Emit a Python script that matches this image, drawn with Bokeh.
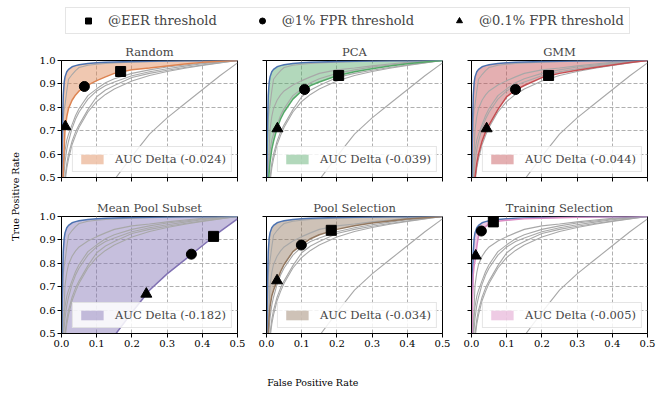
import math
from bokeh.plotting import figure
from bokeh.layouts import column, row
from bokeh.models import Legend, LegendItem, Range1d, FixedTicker, PrintfTickFormatter, ColumnDataSource
from bokeh.embed import file_html
from bokeh.resources import INLINE
from bokeh.core.properties import value

FONT = "DejaVu Serif"

# ---------------- data ----------------
fpr = [0.0, 0.001, 0.002, 0.003, 0.005, 0.0075, 0.01, 0.015, 0.02, 0.03, 0.04, 0.05,
       0.075, 0.1, 0.125, 0.15, 0.2, 0.25, 0.3, 0.35, 0.4, 0.45, 0.5]

baseline_tpr = [0.2, 0.45, 0.62, 0.74, 0.85, 0.905, 0.93, 0.952, 0.962, 0.973, 0.978, 0.982,
                0.987, 0.99, 0.992, 0.994, 0.996, 0.997, 0.998, 0.9985, 0.999, 0.9995, 1.0]
random_tpr = [0.2, 0.3, 0.38, 0.44, 0.52, 0.62, 0.705, 0.76, 0.795, 0.83, 0.853, 0.87,
              0.895, 0.914, 0.93, 0.945, 0.96, 0.968, 0.977, 0.985, 0.992, 0.997, 1.0]
pca_tpr = [0.2, 0.28, 0.34, 0.39, 0.46, 0.52, 0.565, 0.62, 0.655, 0.71, 0.75, 0.78,
           0.835, 0.87, 0.893, 0.908, 0.935, 0.952, 0.965, 0.976, 0.986, 0.994, 1.0]
gmm_tpr = [0.15, 0.22, 0.28, 0.33, 0.4, 0.46, 0.5, 0.56, 0.6, 0.655, 0.695, 0.725,
           0.79, 0.845, 0.874, 0.893, 0.927, 0.945, 0.958, 0.97, 0.981, 0.991, 1.0]
meanpool_tpr = [0.0, 0.005, 0.01, 0.015, 0.025, 0.035, 0.045, 0.065, 0.085, 0.12, 0.155, 0.19,
                0.27, 0.345, 0.42, 0.49, 0.59, 0.685, 0.755, 0.815, 0.875, 0.935, 0.99]
poolsel_tpr = [0.2, 0.3, 0.37, 0.43, 0.5, 0.57, 0.615, 0.66, 0.685, 0.726, 0.765, 0.795,
               0.85, 0.879, 0.905, 0.922, 0.945, 0.96, 0.972, 0.981, 0.989, 0.995, 1.0]
trainsel_tpr = [0.2, 0.4, 0.55, 0.65, 0.75, 0.79, 0.81, 0.87, 0.92, 0.94, 0.957, 0.97,
                0.98, 0.984, 0.987, 0.99, 0.993, 0.995, 0.997, 0.998, 0.999, 0.9995, 1.0]
other_tpr = [0.15, 0.2, 0.25, 0.3, 0.37, 0.43, 0.48, 0.54, 0.58, 0.64, 0.68, 0.715,
             0.78, 0.825, 0.855, 0.878, 0.912, 0.936, 0.953, 0.967, 0.979, 0.99, 1.0]

methods = ["Random", "PCA", "GMM", "Mean Pool Subset", "Pool Selection", "Training Selection"]
method_tpr = [random_tpr, pca_tpr, gmm_tpr, meanpool_tpr, poolsel_tpr, trainsel_tpr]
method_colors = ["#dd8452", "#55a868", "#c44e52", "#8172b3", "#937860", "#da8bc3"]
auc_delta = ["-0.024", "-0.039", "-0.044", "-0.182", "-0.034", "-0.005"]

eer_fpr = [0.168, 0.205, 0.219, 0.432, 0.184, 0.062]
eer_tpr = [0.953, 0.936, 0.936, 0.915, 0.941, 0.977]
fpr1_fpr = [0.065, 0.108, 0.125, 0.369, 0.099, 0.028]
fpr1_tpr = [0.889, 0.876, 0.876, 0.839, 0.878, 0.938]
fpr01_fpr = [0.011, 0.031, 0.043, 0.241, 0.030, 0.012]
fpr01_tpr = [0.718, 0.709, 0.709, 0.669, 0.726, 0.832]

x_ticks = [0.0, 0.1, 0.2, 0.3, 0.4, 0.5]
y_ticks = [0.5, 0.6, 0.7, 0.8, 0.9, 1.0]

legend_labels = ["@EER threshold", "@1% FPR threshold", "@0.1% FPR threshold"]
legend_markers = ["square", "circle", "triangle"]

BLUE = "#4c72b0"
GRAY = "#a8a8a8"


def make_panel(i, show_x, show_y, left, right, top, bottom):
    p = figure(frame_width=176, frame_height=117,
               x_range=Range1d(0, 0.5), y_range=Range1d(0.5, 1.0),
               output_backend="svg", toolbar_location=None,
               min_border_left=left, min_border_right=right,
               min_border_top=top, min_border_bottom=bottom)
    p.title.text = methods[i]
    p.title.align = "center"
    p.title.text_font = FONT
    p.title.text_font_size = "11.5px"
    p.title.text_font_style = "normal"
    p.title.standoff = 4
    p.outline_line_color = "black"
    p.outline_line_width = 1
    p.outline_line_alpha = 1
    p.background_fill_color = "white"
    p.border_fill_color = "white"

    for ax, ticks, show in ((p.xaxis[0], x_ticks, show_x), (p.yaxis[0], y_ticks, show_y)):
        ax.ticker = FixedTicker(ticks=ticks)
        ax.minor_tick_line_color = None
        ax.major_tick_in = 0
        ax.major_tick_out = 4
        ax.major_tick_line_color = "black"
        ax.axis_line_color = "black"
        ax.major_label_standoff = 2
        ax.major_label_text_font = FONT
        ax.major_label_text_color = "black"
        ax.major_label_text_font_size = "10px"
        if show:
            ax.formatter = PrintfTickFormatter(format="%.1f")
        else:
            ax.major_label_overrides = {t: "" for t in ticks}
            ax.major_label_standoff = 0
    for g, ticks in ((p.xgrid[0], x_ticks), (p.ygrid[0], y_ticks)):
        g.ticker = FixedTicker(ticks=ticks)
        g.grid_line_color = "#b0b0b0"
        g.grid_line_dash = "4 2"
        g.grid_line_width = 1

    src = ColumnDataSource(dict(x=fpr, base=baseline_tpr, m=method_tpr[i]))
    area = p.varea(x="x", y1="m", y2="base", source=src,
                   fill_color=method_colors[i], fill_alpha=0.45)
    for j in range(len(methods)):
        if j != i:
            p.line(fpr, method_tpr[j], line_color=GRAY, line_width=1.1)
    p.line(fpr, other_tpr, line_color=GRAY, line_width=1.1)
    p.line("x", "base", source=src, line_color=BLUE, line_width=1.5)
    p.line("x", "m", source=src, line_color=method_colors[i], line_width=1.5)

    p.scatter([fpr01_fpr[i]], [fpr01_tpr[i]], marker="triangle", size=11, color="black")
    p.scatter([fpr1_fpr[i]], [fpr1_tpr[i]], marker="circle", size=10, color="black")
    p.scatter([eer_fpr[i]], [eer_tpr[i]], marker="square", size=10, color="black")

    leg = Legend(items=[LegendItem(label="AUC Delta (" + auc_delta[i] + ")", renderers=[area])],
                 location="bottom_right", margin=5, padding=5,
                 glyph_width=28, glyph_height=12, label_height=14,
                 label_standoff=9, label_text_font=FONT, label_text_font_size="11.5px",
                 border_line_color="#cccccc", border_line_width=1,
                 background_fill_color="white", background_fill_alpha=0.85)
    p.add_layout(leg, "center")
    return p


# ---------------- top legend ----------------
top = figure(width=656, height=40, x_range=Range1d(0, 1), y_range=Range1d(0, 1),
             x_axis_type=None, y_axis_type=None, output_backend="svg",
             toolbar_location=None, min_border=0)
top.outline_line_color = None
top.grid.visible = False
items = []
for lab, mk in zip(legend_labels, legend_markers):
    # placed outside the visible range: used only for the legend swatch
    r = top.scatter(x=[-5], y=[-5], marker=mk, size=10, color="black")
    items.append(LegendItem(label=lab, renderers=[r]))
top_leg = Legend(items=items, orientation="horizontal", location=(65, 6),
                 padding=5, glyph_width=34, glyph_height=15, label_height=15,
                 label_standoff=3, spacing=28, label_text_font=FONT,
                 label_text_font_size="13px", border_line_color="#cccccc",
                 border_line_width=1, background_fill_alpha=1.0)
top.add_layout(top_leg, "center")

# ---------------- y label strip ----------------
ystrip = figure(width=28, height=312, x_range=Range1d(0, 1), y_range=Range1d(0, 1),
                x_axis_type=None, y_axis_type=None, output_backend="svg",
                toolbar_location=None, min_border=0)
ystrip.outline_line_color = None
ystrip.grid.visible = False
ystrip.text(x=[0.54], y=[0.5], text=["True Positive Rate"], angle=math.pi / 2,
            text_align="center", text_baseline="middle",
            text_font=value(FONT), text_font_size="9.5px", text_color="black")

# ---------------- x label strip ----------------
xstrip = figure(width=656, height=34, x_range=Range1d(0, 1), y_range=Range1d(0, 1),
                x_axis_type=None, y_axis_type=None, output_backend="svg",
                toolbar_location=None, min_border=0)
xstrip.outline_line_color = None
xstrip.grid.visible = False
xstrip.text(x=[0.476], y=[0.18], text=["False Positive Rate"],
            text_align="center", text_baseline="middle",
            text_font=value(FONT), text_font_size="9.5px", text_color="black")

# ---------------- panels ----------------
r1 = [make_panel(0, False, True, 33, 13, 19, 19),
      make_panel(1, False, False, 16, 13, 19, 19),
      make_panel(2, False, False, 16, 9, 19, 19)]
r2 = [make_panel(3, True, True, 33, 13, 19, 21),
      make_panel(4, True, False, 16, 13, 19, 21),
      make_panel(5, True, False, 16, 9, 19, 21)]

grid = column(row(*r1), row(*r2))
body = row(ystrip, grid)
layout = column(top, body, xstrip)

open("out.html", "w").write(file_html(layout, INLINE))
